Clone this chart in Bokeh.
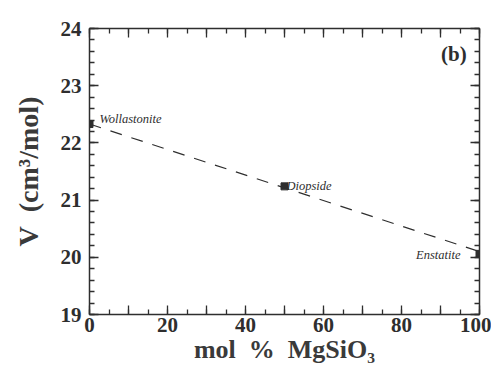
from bokeh.plotting import figure
from bokeh.models import LinearAxis, FixedTicker, Range1d, Label, ColumnDataSource
from bokeh.core.properties import value
from bokeh.embed import file_html
from bokeh.resources import INLINE

# data
minerals = ["Wollastonite", "Diopside", "Enstatite"]
mol_pct = [0, 50, 100]
volume = [22.33, 21.24, 20.06]
fit_x = [0, 100]
fit_y = [22.33, 20.10]
x_ticks = [0, 20, 40, 60, 80, 100]
y_ticks = [19, 20, 21, 22, 23, 24]

INK = "#2e2e2e"
SERIF = "Liberation Serif"
SP = "\u00a0\u00a0"

p = figure(width=491, height=383, output_backend="svg", toolbar_location=None,
           x_range=Range1d(0, 100), y_range=Range1d(19, 24),
           min_border_left=89, min_border_right=12, min_border_top=28, min_border_bottom=69,
           background_fill_color="white", border_fill_color="white", outline_line_color=None)
p.grid.visible = False


def style(ax, labels=True):
    ax.axis_line_color = INK
    ax.axis_line_width = 1.5
    ax.major_tick_line_color = INK
    ax.minor_tick_line_color = INK
    ax.major_tick_line_width = 1.3
    ax.minor_tick_line_width = 1.3
    ax.major_tick_out = 0
    ax.minor_tick_out = 0
    ax.major_tick_in = 9
    ax.minor_tick_in = 5
    ax.major_label_text_font = SERIF
    ax.major_label_text_font_style = "bold"
    ax.major_label_text_font_size = "21px"
    ax.major_label_text_color = INK
    ax.axis_label_text_font = SERIF
    ax.axis_label_text_font_style = "bold"
    ax.axis_label_text_color = "#3a3a3a"
    if not labels:
        ax.major_label_text_font_size = "0px"
        ax.major_label_text_color = None


xt = FixedTicker(ticks=list(range(0, 101, 10)), minor_ticks=list(range(0, 101, 5)))
yt = FixedTicker(ticks=y_ticks, minor_ticks=[19 + 0.2 * i for i in range(26)])
blank = {t: "" for t in range(0, 101, 10) if t not in x_ticks}

p.xaxis.ticker = xt
p.xaxis.major_label_overrides = blank
p.yaxis.ticker = yt
style(p.xaxis[0])
style(p.yaxis[0])
p.xaxis.axis_label = "mol" + SP + "%" + SP + "MgSiO\u2083"
p.xaxis.axis_label_text_font_size = "26px"
p.xaxis.axis_label_standoff = 0
p.xaxis.major_label_standoff = 3
p.yaxis.axis_label = "V" + SP + "(cm\u00b3/mol)"
p.yaxis.axis_label_text_font_size = "28px"
p.yaxis.axis_label_standoff = 14
p.yaxis.major_label_standoff = 8

top = LinearAxis(ticker=xt)
style(top, labels=False)
p.add_layout(top, "above")
right = LinearAxis(ticker=yt)
style(right, labels=False)
p.add_layout(right, "right")

p.line(fit_x, fit_y, line_color=INK, line_width=1.2, line_dash="12 10")

src = ColumnDataSource(dict(x=mol_pct, y=volume, name=minerals,
                            dx=[10, 2, -19], dy=[-5, 0, 1],
                            align=["left", "left", "right"]))
p.scatter("x", "y", source=src, marker="square", size=7, color=INK)
p.text("x", "y", text="name", source=src, x_offset="dx", y_offset="dy",
       text_align="align", text_baseline="middle",
       text_font=value(SERIF), text_font_style="italic", text_font_size="12.5px",
       text_color=INK)

p.add_layout(Label(x=96.7, y=23.56, text="(b)", text_align="right", text_baseline="middle",
                   text_font=SERIF, text_font_style="bold", text_font_size="21px",
                   text_color=INK))

open("out.html", "w").write(file_html(p, INLINE))
